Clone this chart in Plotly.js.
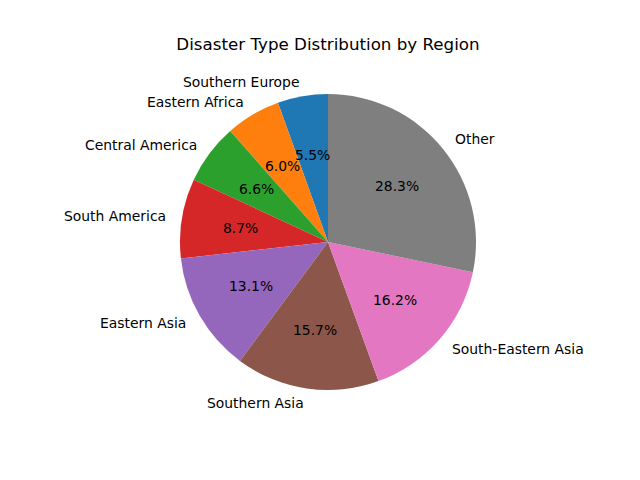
<!DOCTYPE html>
<html>
<head>
<meta charset="utf-8">
<script src="https://cdn.plot.ly/plotly-3.0.1.min.js"></script>
<style>html,body{margin:0;padding:0;background:#fff;}</style>
</head>
<body>
<div id="chart" style="width:640px;height:480px;"></div>
<script>
const regions = ["Southern Europe", "Eastern Africa", "Central America", "South America", "Eastern Asia", "Southern Asia", "South-Eastern Asia", "Other"];
const shares = [5.5, 6.0, 6.6, 8.7, 13.1, 15.7, 16.2, 28.3];
const colors = ["#1f77b4", "#ff7f0e", "#2ca02c", "#d62728", "#9467bd", "#8c564b", "#e377c2", "#7f7f7f"];

const W = 640, H = 480;
const cx = 328, cy = 242, R = 148;
const font = "DejaVu Sans, sans-serif";

const total = shares.reduce((a, b) => a + b, 0);
const annotations = [];
let cum = 0;
shares.forEach((v, i) => {
  const mid = (90 + 360 * (cum + v / 2) / total) * Math.PI / 180;
  cum += v;
  const c = Math.cos(mid), s = Math.sin(mid);
  annotations.push({
    x: (cx + 1.1 * R * c) / W, y: (H - (cy - 1.1 * R * s)) / H,
    xref: "paper", yref: "paper", showarrow: false,
    text: regions[i], xanchor: c < 0 ? "right" : "left", yanchor: "middle",
    font: {family: font, size: 13.9, color: "#000"}, borderpad: 0
  });
  annotations.push({
    x: (cx + 0.6 * R * c) / W, y: (H - (cy - 0.6 * R * s)) / H,
    xref: "paper", yref: "paper", showarrow: false,
    text: v.toFixed(1) + "%", xanchor: "center", yanchor: "middle",
    font: {family: font, size: 13.9, color: "#000"}, borderpad: 0
  });
});

// Plotly places the first counterclockwise slice ending at the rotation angle;
// shift so that it starts at 12 o'clock like the reference.
const rot = -360 * shares[0] / total;

const trace = {
  type: "pie",
  labels: regions,
  values: shares,
  sort: false,
  direction: "counterclockwise",
  rotation: rot,
  textinfo: "none",
  hoverinfo: "label+percent",
  marker: {colors: colors, line: {width: 0}},
  domain: {x: [(cx - R) / W, (cx + R) / W], y: [(H - cy - R) / H, (H - cy + R) / H]},
  showlegend: false
};

const layout = {
  width: W, height: H,
  margin: {l: 0, r: 0, t: 0, b: 0},
  paper_bgcolor: "#fff",
  title: {
    text: "Disaster Type Distribution by Region",
    x: cx / W, xanchor: "center", xref: "paper",
    y: (H - 44) / H, yanchor: "middle", yref: "paper",
    font: {family: font, size: 16.7, color: "#000"}
  },
  annotations: annotations,
  showlegend: false
};

Plotly.newPlot("chart", [trace], layout, {displayModeBar: false, staticPlot: true});
</script>
</body>
</html>
